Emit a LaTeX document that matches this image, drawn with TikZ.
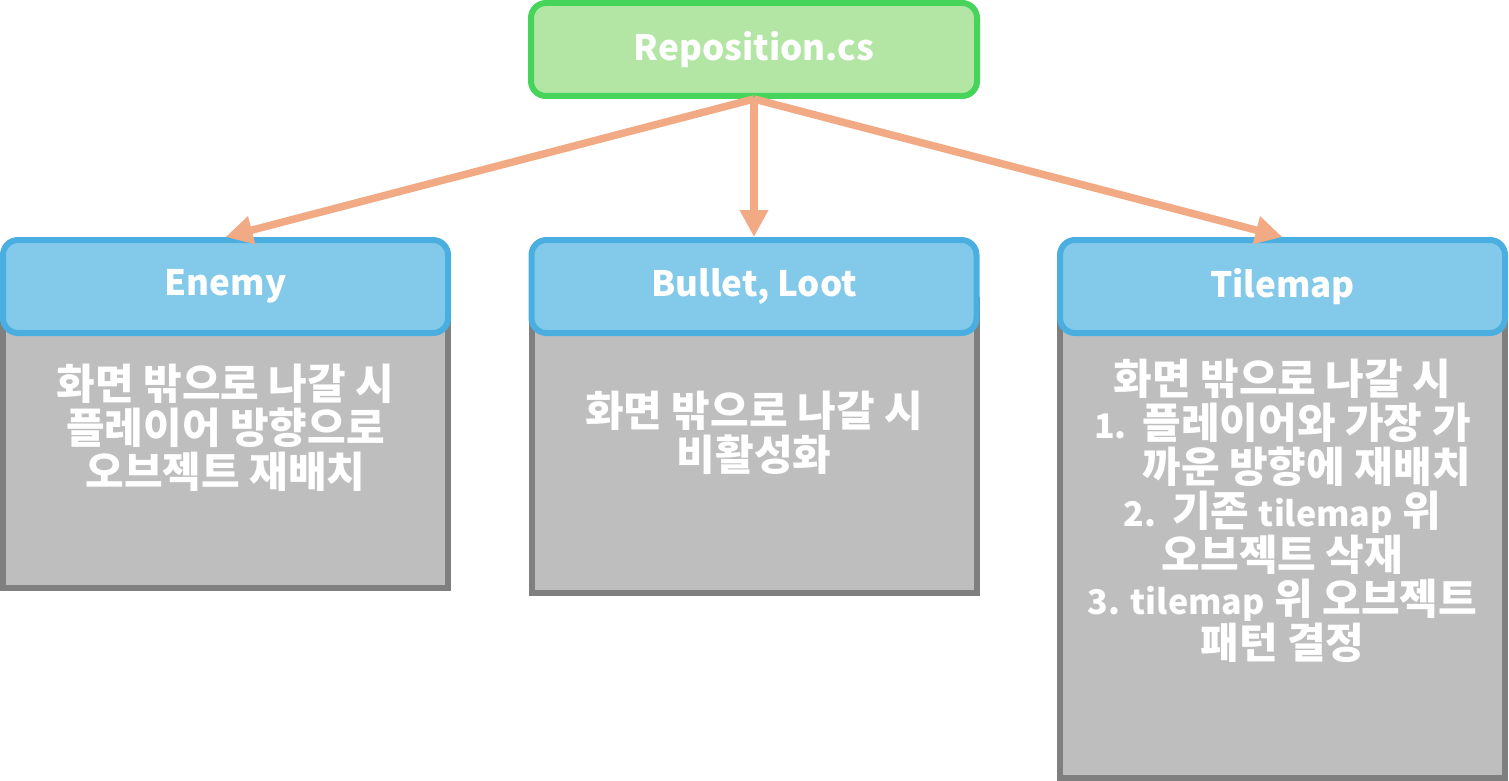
\documentclass[tikz,border=0pt]{standalone}
\usepackage{fontspec}
\setmainfont{Noto Sans CJK KR}
\usetikzlibrary{arrows.meta}

\definecolor{topfill}{HTML}{B3E6A5}
\definecolor{topline}{HTML}{47D45A}
\definecolor{headfill}{HTML}{83C9EA}
\definecolor{headline}{HTML}{4AAFE0}
\definecolor{bodyfill}{HTML}{BEBEBE}
\definecolor{bodyline}{HTML}{7F7F7F}
\definecolor{linkcol}{HTML}{F2AA84}

% latin words inside the korean text are set smaller
\newcommand{\lat}[1]{{\fontsize{34}{44}\selectfont #1}}

\tikzset{
    boxfont/.style={text=white, font=\bfseries\fontsize{35}{44}\selectfont},
    topbox/.style={draw=topline, fill=topfill, line width=6pt, rounded corners=15pt,
        minimum width=446pt, minimum height=93pt, boxfont},
    headbox/.style={draw=headline, fill=headfill, line width=6pt, rounded corners=15pt,
        minimum width=445pt, minimum height=93pt, boxfont},
    bodybox/.style={draw=bodyline, fill=bodyfill, line width=6pt, minimum width=445pt},
    bodytext/.style={text=white, font=\bfseries\fontsize{42}{44}\selectfont, align=center, inner sep=0pt},
    link/.style={draw=linkcol, line width=7.5pt, -{Triangle[length=27pt,width=27pt]}}
}

\begin{document}
\begin{tikzpicture}[x=1pt, y=-1pt]
    \useasboundingbox (0,0) rectangle (1509,781);

    \def\xa{225.5}  % centre of left column
    \def\xb{754}    % centre of middle column
    \def\xc{1282.5} % centre of right column

    % Draw the grey bodies (behind the headers)
    \node[bodybox, minimum height=288pt] (enemybody)  at (\xa, 444) {};
    \node[bodybox, minimum height=293pt] (bulletbody) at (\xb, 446.5) {};
    \node[bodybox, minimum height=478pt] (tilebody)   at (\xc, 539) {};

    % Draw the script and the headers
    \node[topbox]  (script) at (\xb, 49.5)  {Reposition.cs};
    \node[headbox] (enemy)  at (\xa, 286.5) {Enemy};
    \node[headbox] (bullet) at (\xb, 286.5) {Bullet, Loot};
    \node[headbox] (tile)   at (\xc, 286.5) {Tilemap};

    % Body texts
    \node[bodytext] (enemytxt) at (\xa, 428) {화면 밖으로 나갈 시\\플레이어 방향으로\\오브젝트 재배치};
    \node[bodytext] (bullettxt) at (\xb, 433) {화면 밖으로 나갈 시\\비활성화};
    \node[bodytext] (tiletxt) at (\xc, 511) {화면 밖으로 나갈 시\\
        \lat{1.~~}플레이어와 가장 가\\
        \hphantom{\lat{1.~~}}까운 방향에 재배치\\
        \lat{2.~~}기존 \lat{tilemap} 위\\
        오브젝트 삭재\\
        \lat{3. tilemap} 위 오브젝트\\
        패턴 결정};

    % Draw links
    \draw[link] (script.south) -- (enemy.north);
    \draw[link] (script.south) -- (bullet.north);
    \draw[link] (script.south) -- (tile.north);
\end{tikzpicture}
\end{document}
